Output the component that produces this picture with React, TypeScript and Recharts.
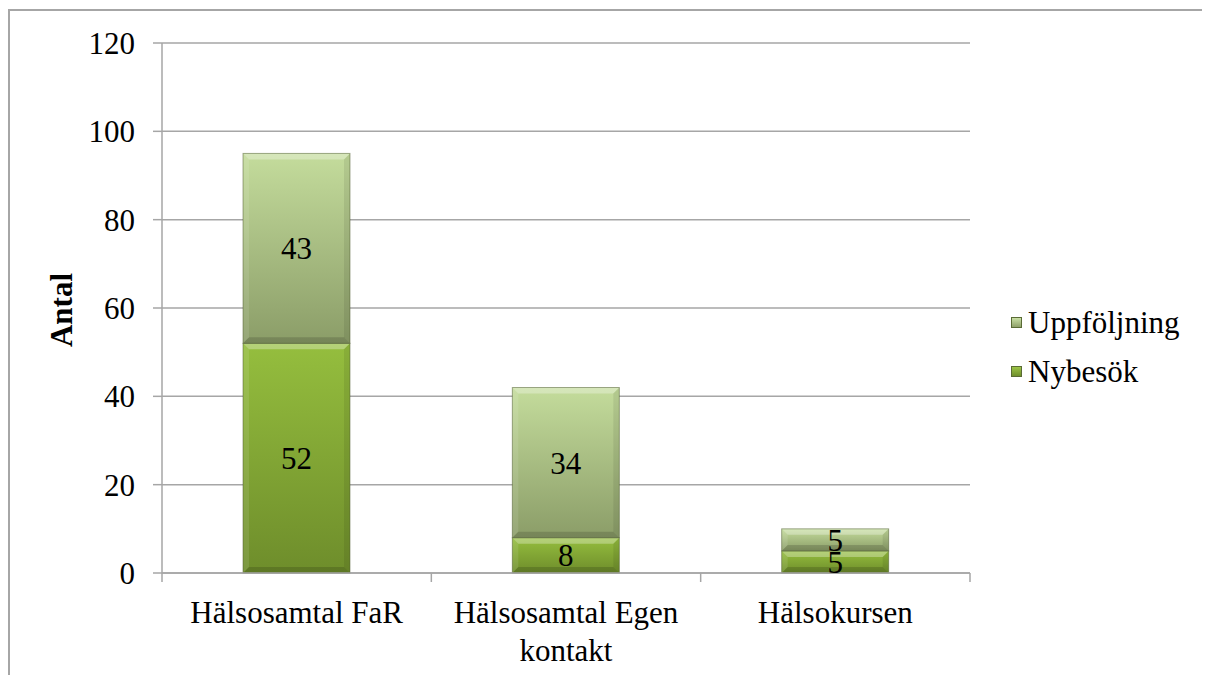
import { BarChart, Bar, XAxis, YAxis, CartesianGrid, Legend, LabelList } from 'recharts';

const categories = ['Hälsosamtal FaR', 'Hälsosamtal Egen kontakt', 'Hälsokursen'];
const nybesok = [52, 8, 5];
const uppfoljning = [43, 34, 5];
const yTicks = [0, 20, 40, 60, 80, 100, 120];

const data = categories.map((name, i) => ({ name, nybesok: nybesok[i], uppfoljning: uppfoljning[i] }));

const FONT = '"Liberation Serif", "Times New Roman", serif';
const GRID = '#a6a6a6';
const BAND = 808 / 3;

const swatch: Record<string, string> = {
  nybesok: 'linear-gradient(#9cc446, #6f8f2b)',
  uppfoljning: 'linear-gradient(#c9e0a4, #8fa16b)',
};

let ctx: CanvasRenderingContext2D | null = null;
function wrapWords(text: string, maxWidth: number): string[] {
  if (!ctx) ctx = document.createElement('canvas').getContext('2d');
  if (!ctx) return [text];
  ctx.font = `31px ${FONT}`;
  const lines: string[] = [];
  let cur = '';
  text.split(' ').forEach((w) => {
    const test = cur ? `${cur} ${w}` : w;
    if (cur && ctx!.measureText(test).width > maxWidth) {
      lines.push(cur);
      cur = w;
    } else cur = test;
  });
  if (cur) lines.push(cur);
  return lines;
}

function BevelBar(props: any) {
  const { x, y, width: w, height: h, gradId } = props;
  if (!h || h <= 0) return null;
  const b = Math.min(6, h / 3, w / 3);
  return (
    <g>
      <rect x={x} y={y} width={w} height={h} fill={`url(#${gradId})`} />
      <polygon points={`${x},${y} ${x + w},${y} ${x + w - b},${y + b} ${x + b},${y + b}`} fill="#fff" fillOpacity={0.3} />
      <polygon points={`${x},${y} ${x + b},${y + b} ${x + b},${y + h - b} ${x},${y + h}`} fill="#fff" fillOpacity={0.1} />
      <polygon points={`${x + w},${y} ${x + w},${y + h} ${x + w - b},${y + h - b} ${x + w - b},${y + b}`} fill="#000" fillOpacity={0.08} />
      <polygon points={`${x},${y + h} ${x + b},${y + h - b} ${x + w - b},${y + h - b} ${x + w},${y + h}`} fill="#000" fillOpacity={0.15} />
      <rect x={x} y={y} width={w} height={h} fill="none" stroke="#4b5a2c" strokeOpacity={0.5} strokeWidth={1} />
    </g>
  );
}

function XTick(props: any) {
  const { x, y, payload, index, visibleTicksCount } = props;
  const lines = wrapWords(String(payload.value), 250);
  return (
    <g>
      <line x1={x - BAND / 2} x2={x - BAND / 2} y1={y} y2={y + 9} stroke={GRID} strokeWidth={1.5} />
      {index === visibleTicksCount - 1 && (
        <line x1={x + BAND / 2} x2={x + BAND / 2} y1={y} y2={y + 9} stroke={GRID} strokeWidth={1.5} />
      )}
      <text x={x} y={y + 50} textAnchor="middle" fill="#000" fontFamily={FONT} fontSize={31}>
        {lines.map((l, i) => (
          <tspan key={i} x={x} dy={i === 0 ? 0 : 38}>
            {l}
          </tspan>
        ))}
      </text>
    </g>
  );
}

function LegendBox(props: any) {
  const items = [...(props.payload || [])].reverse();
  return (
    <div style={{ fontFamily: FONT, fontSize: 31, color: '#000' }}>
      {items.map((it: any) => (
        <div key={it.dataKey} style={{ display: 'flex', alignItems: 'center', height: 49 }}>
          <span
            style={{
              width: 9,
              height: 9,
              background: swatch[it.dataKey],
              border: '1px solid #5a6b35',
              marginRight: 6,
              display: 'inline-block',
            }}
          />
          <span>{it.value}</span>
        </div>
      ))}
    </div>
  );
}

export default function App() {
  return (
    <div
      style={{
        width: 1200,
        height: 665,
        borderTop: `2px solid ${GRID}`,
        borderLeft: `2px solid ${GRID}`,
        marginTop: 1,
        background: '#fff',
      }}
    >
      <BarChart
        width={1200}
        height={665}
        data={data}
        margin={{ top: 32, right: 240, left: 0, bottom: 43 }}
        barSize={107}
      >
        <defs>
          <linearGradient id="gNy" x1="0" y1="0" x2="0" y2="1">
            <stop offset="0%" stopColor="#95be3e" />
            <stop offset="100%" stopColor="#6e8d2b" />
          </linearGradient>
          <linearGradient id="gUpp" x1="0" y1="0" x2="0" y2="1">
            <stop offset="0%" stopColor="#c4dc9c" />
            <stop offset="100%" stopColor="#8b9d68" />
          </linearGradient>
        </defs>
        <CartesianGrid vertical={false} stroke={GRID} strokeWidth={1.5} />
        <XAxis
          dataKey="name"
          height={60}
          tickLine={false}
          tickSize={0}
          tickMargin={0}
          interval={0}
          stroke={GRID}
          strokeWidth={1.5}
          tick={<XTick />}
        />
        <YAxis
          width={152}
          domain={[0, 120]}
          ticks={yTicks}
          interval={0}
          tickSize={9}
          tickMargin={18}
          stroke={GRID}
          strokeWidth={1.5}
          tick={{ fill: '#000', fontSize: 31, fontFamily: FONT }}
          label={{
            content: ({ viewBox }: any) => {
              const cx = viewBox.x + 51;
              const cy = viewBox.y + viewBox.height / 2 + 2;
              return (
                <text
                  x={cx}
                  y={cy}
                  transform={`rotate(-90, ${cx}, ${cy})`}
                  textAnchor="middle"
                  dominantBaseline="central"
                  fontFamily={FONT}
                  fontSize={31}
                  fontWeight="bold"
                  fill="#000"
                >
                  Antal
                </text>
              );
            },
          }}
        />
        <Legend
          layout="horizontal"
          verticalAlign="middle"
          align="center"
          content={<LegendBox />}
          wrapperStyle={{ left: 1001, top: 287, width: 200 }}
        />
        <Bar
          dataKey="nybesok"
          name="Nybesök"
          stackId="a"
          fill="#85aa36"
          isAnimationActive={false}
          shape={(p: any) => <BevelBar {...p} gradId="gNy" />}
        >
          <LabelList dataKey="nybesok" position="center" fill="#000" fontSize={31} fontFamily={FONT} />
        </Bar>
        <Bar
          dataKey="uppfoljning"
          name="Uppföljning"
          stackId="a"
          fill="#aec48a"
          isAnimationActive={false}
          shape={(p: any) => <BevelBar {...p} gradId="gUpp" />}
        >
          <LabelList dataKey="uppfoljning" position="center" fill="#000" fontSize={31} fontFamily={FONT} />
        </Bar>
      </BarChart>
    </div>
  );
}
